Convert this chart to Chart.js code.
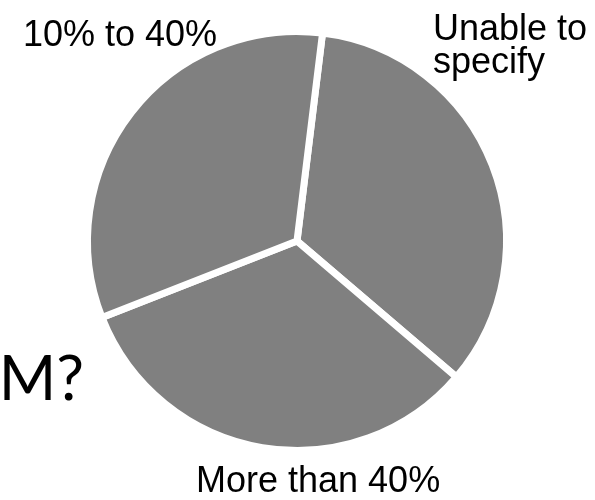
<!DOCTYPE html>
<html>
<head>
<meta charset="utf-8">
<script src="https://cdn.jsdelivr.net/npm/chart.js@4"></script>
<style>
  body { margin: 0; background: #fff; }
  canvas { display: block; }
</style>
</head>
<body>
<canvas id="pieChart" width="595" height="500"></canvas>
<script>
// slices, clockwise starting just right of 12 o'clock
const labels = ["Unable to specify", "More than 40%", "10% to 40%"];
const shares = [34.3, 32.8, 32.9];
// label text as it is shown (split into lines) and where it sits
const labelLines = [["Unable to", "specify"], ["More than 40%"], ["10% to 40%"]];
const labelPos = [[433, 40], [196, 492], [23, 46]];

const sideText = "M?";

// draws the outside labels and the cut-off title text
const textPlugin = {
    id: "textPlugin",
    afterDraw(chart) {
        const ctx = chart.ctx;
        ctx.save();
        ctx.fillStyle = "#000";
        ctx.textBaseline = "alphabetic";
        ctx.textAlign = "left";
        ctx.font = "36px 'Liberation Sans', Arial, sans-serif";
        for (let i = 0; i < labelLines.length; i++) {
            let x = labelPos[i][0], y = labelPos[i][1];
            labelLines[i].forEach((line, j) => {
                ctx.fillText(line, x, y + j * 33);
            });
        }
        ctx.font = "62px Lato, 'Open Sans', sans-serif";
        ctx.textAlign = "right";
        ctx.fillText(sideText, 84, 400);
        ctx.restore();
    }
};

const config = {
    type: "pie",
    data: {
        labels: labels,
        datasets: [{
            data: shares,
            backgroundColor: "#808080",
            borderColor: "#ffffff",
            borderWidth: 7
        }]
    },
    options: {
        responsive: false,
        animation: false,
        rotation: 7,
        layout: {
            padding: { left: 83, right: 84, top: 28, bottom: 46 }
        },
        plugins: {
            legend: { display: false },
            tooltip: { enabled: false }
        }
    },
    plugins: [textPlugin]
};

const pieChart = new Chart(document.getElementById("pieChart"), config);
</script>
</body>
</html>
